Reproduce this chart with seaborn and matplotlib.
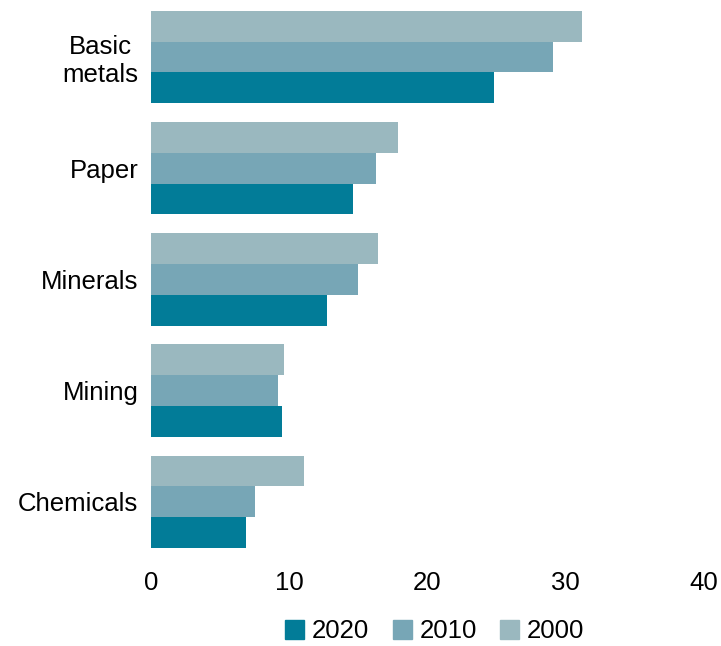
import numpy as np
import pandas as pd
import matplotlib.pyplot as plt
import seaborn as sns
from matplotlib.patches import Patch

sectors = ["Basic\nmetals", "Paper", "Minerals", "Mining", "Chemicals"]
years = ["2000", "2010", "2020"]
vals_2000 = [31.2, 17.9, 16.4, 9.6, 11.1]
vals_2010 = [29.1, 16.3, 15.0, 9.2, 7.5]
vals_2020 = [24.8, 14.6, 12.7, 9.5, 6.9]
colors = {"2020": "#027C98", "2010": "#77A6B6", "2000": "#9AB8BF"}

df = pd.DataFrame({
    "sector": sectors * 3,
    "year": ["2000"] * 5 + ["2010"] * 5 + ["2020"] * 5,
    "value": vals_2000 + vals_2010 + vals_2020,
})

sns.set_style("white")
plt.rcParams['font.family'] = ['Liberation Sans', 'DejaVu Sans']
plt.rcParams['text.color'] = 'black'
plt.rcParams['xtick.color'] = 'black'
plt.rcParams['ytick.color'] = 'black'

fig = plt.figure(figsize=(7.21, 6.46), dpi=100)
ax = fig.add_axes([0.2094, 0.137, 0.767, 0.861])
sns.barplot(data=df, y="sector", x="value", hue="year", hue_order=years,
            order=sectors, palette=colors, width=0.83, saturation=1,
            orient="h", ax=ax, legend=False, linewidth=0)

ax.set_xlim(0, 40)
ax.set_ylim(4.5, -0.5)
ax.set_xticks([0, 10, 20, 30, 40])
ax.set_xlabel("")
ax.set_ylabel("")
sns.despine(ax=ax, left=True, bottom=True)
ax.tick_params(axis="both", length=0, labelsize=18.5, labelcolor="black")
ax.tick_params(axis="x", pad=10)
ax.tick_params(axis="y", pad=9)
for lbl in ax.get_yticklabels():
    lbl.set_multialignment("center")

handles = [Patch(color=colors[y], label=y) for y in ["2020", "2010", "2000"]]
fig.legend(handles=handles, loc="lower center", bbox_to_anchor=(0.603, 0.004),
           ncol=3, frameon=False, fontsize=18.5, handlelength=0.75, handleheight=0.75,
           handletextpad=0.3, columnspacing=0.9, borderpad=0, borderaxespad=0)

fig.savefig("out.png", dpi=100)
